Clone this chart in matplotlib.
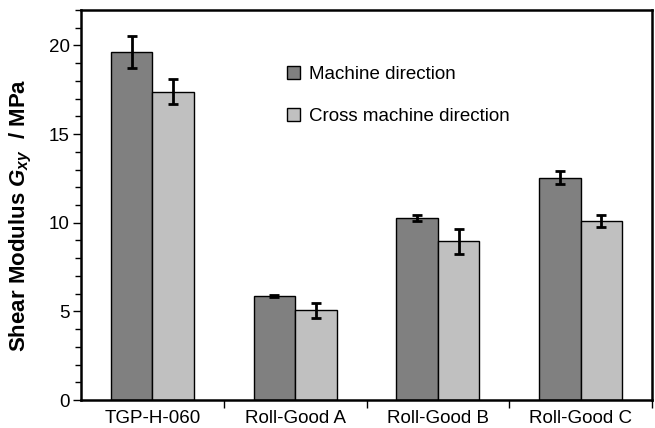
import numpy as np
import matplotlib.pyplot as plt
from matplotlib.ticker import MultipleLocator, FixedLocator

plt.rcParams['font.family'] = ['Liberation Sans', 'DejaVu Sans']
plt.rcParams['mathtext.fontset'] = 'custom'
plt.rcParams['mathtext.it'] = 'Liberation Sans:bold:italic'
plt.rcParams['mathtext.rm'] = 'Liberation Sans:bold'

categories = ['TGP-H-060', 'Roll-Good A', 'Roll-Good B', 'Roll-Good C']
md_values = [19.65, 5.85, 10.25, 12.55]
md_err = [0.9, 0.05, 0.18, 0.37]
cmd_values = [17.4, 5.05, 8.95, 10.1]
cmd_err = [0.7, 0.4, 0.7, 0.33]

fig = plt.figure(figsize=(6.55, 4.28), dpi=100)
ax = fig.add_axes([0.1237, 0.0654, 0.8717, 0.9112])

x = np.arange(len(categories))
w = 0.29
err_kw = dict(ecolor='black', elinewidth=2, capsize=3.4, capthick=2)
ax.bar(x - w / 2, md_values, w, yerr=md_err, color='#808080', edgecolor='black',
       linewidth=1, label='Machine direction', error_kw=err_kw)
ax.bar(x + w / 2, cmd_values, w, yerr=cmd_err, color='#c0c0c0', edgecolor='black',
       linewidth=1, label='Cross machine direction', error_kw=err_kw)

ax.set_xlim(-0.5, 3.5)
ax.set_ylim(0, 22)
ax.set_xticks(x)
ax.set_xticklabels(categories)
ax.tick_params(axis='x', which='major', length=0, labelsize=13.5, pad=7.5)
ax.xaxis.set_minor_locator(FixedLocator([0.5, 1.5, 2.5, 3.5]))
ax.tick_params(axis='x', which='minor', length=6, width=1, direction='out')

ax.yaxis.set_major_locator(MultipleLocator(5))
ax.yaxis.set_minor_locator(MultipleLocator(1))
ax.tick_params(axis='y', which='major', length=6, width=1, labelsize=13.5,
               direction='out', pad=2)
ax.tick_params(axis='y', which='minor', length=4, width=1, direction='out')

for s in ax.spines.values():
    s.set_linewidth(1.8)

ax.set_ylabel(r'Shear Modulus $G_{xy}$  / MPa', fontsize=16, fontweight='bold')
ax.yaxis.set_label_coords(-0.083, 0.474)

ax.legend(loc='upper left', bbox_to_anchor=(0.348, 0.875), frameon=False, fontsize=13.5,
          labelspacing=1.3, handlelength=0.7, handleheight=0.7, handletextpad=0.45,
          borderaxespad=0)

fig.savefig('out.png', dpi=100)
